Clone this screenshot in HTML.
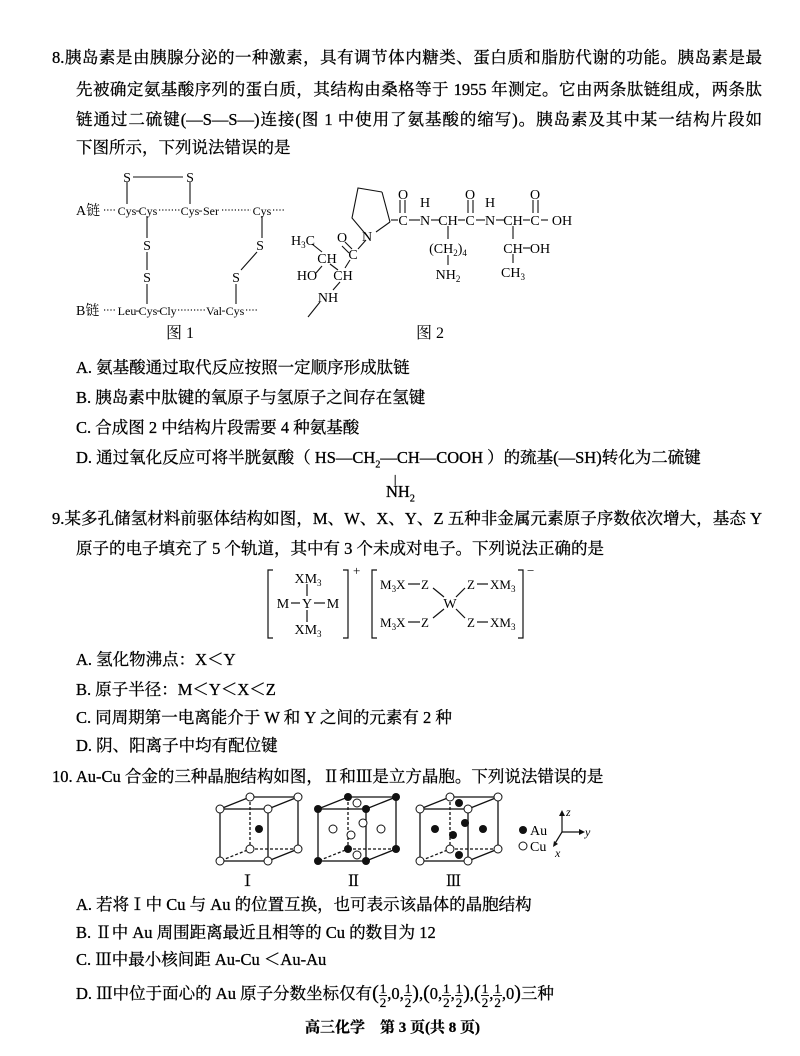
<!DOCTYPE html>
<html><head><meta charset="utf-8"><style>
body{margin:0;background:#fff;}
#p{position:relative;width:800px;height:1056px;overflow:hidden;font-family:"Liberation Serif","Noto Serif CJK SC","Noto Sans CJK SC",serif;color:#000;}
.l{position:absolute;white-space:nowrap;font-size:16.5px;line-height:20px;-webkit-text-stroke:0.3px #000;}
.j{text-align:justify;text-align-last:justify;}
svg text{font-family:"Liberation Serif","Noto Serif CJK SC",serif;fill:#000;}
.fr{display:inline-block;vertical-align:middle;text-align:center;font-size:13px;line-height:13px;}
.fr span{display:block;}
.fr .t{border-bottom:1px solid #111;padding:0 1px;}
</style></head><body><div id="p">
<div class="l j" style="left:52px;top:48px;width:710px">8.胰岛素是由胰腺分泌的一种激素，具有调节体内糖类、蛋白质和脂肪代谢的功能。胰岛素是最</div>
<div class="l j" style="left:76px;top:80px;width:686px">先被确定氨基酸序列的蛋白质，其结构由桑格等于 1955 年测定。它由两条肽链组成，两条肽</div>
<div class="l j" style="left:76px;top:110px;width:686px">链通过二硫键(—S—S—)连接(图 1 中使用了氨基酸的缩写)。胰岛素及其中某一结构片段如</div>
<div class="l" style="left:76px;top:138px">下图所示，下列说法错误的是</div>

<svg style="position:absolute;left:0;top:160px" width="800" height="190" viewBox="0 160 800 190" font-size="14">
<g stroke="#111" stroke-width="1.1" fill="none">
<line x1="133" y1="177" x2="183" y2="177"/><line x1="127" y1="182" x2="127" y2="204"/><line x1="190" y1="182" x2="190" y2="204"/>
<line x1="147" y1="216" x2="147" y2="238"/><line x1="147" y1="252" x2="147" y2="270"/><line x1="147" y1="284" x2="147" y2="304"/>
<line x1="262" y1="216" x2="262" y2="238"/><line x1="257" y1="252" x2="241" y2="270"/><line x1="236" y1="284" x2="236" y2="304"/>
<g stroke-dasharray="1.2,2" stroke-width="1.3">
<line x1="104" y1="210" x2="116" y2="210"/><line x1="159" y1="210" x2="180" y2="210"/><line x1="222" y1="210" x2="251" y2="210"/><line x1="273" y1="210" x2="284" y2="210"/>
<line x1="104" y1="310" x2="116" y2="310"/><line x1="178" y1="310" x2="205" y2="310"/><line x1="246" y1="310" x2="258" y2="310"/>
</g>
<path d="M382 192 L390 222 M368 237 L352 218 L358 188 L382 192"/>
<line x1="376" y1="232" x2="390" y2="222"/>
<line x1="391" y1="220" x2="398" y2="220"/><line x1="400" y1="200" x2="400" y2="213"/><line x1="405" y1="200" x2="405" y2="213"/>
<line x1="409" y1="220" x2="420" y2="220"/><line x1="431" y1="220" x2="439" y2="220"/><line x1="458" y1="220" x2="465" y2="220"/>
<line x1="468" y1="200" x2="468" y2="213"/><line x1="473" y1="200" x2="473" y2="213"/><line x1="476" y1="220" x2="485" y2="220"/>
<line x1="496" y1="220" x2="504" y2="220"/><line x1="523" y1="220" x2="530" y2="220"/><line x1="533" y1="200" x2="533" y2="213"/><line x1="538" y1="200" x2="538" y2="213"/><line x1="541" y1="220" x2="548" y2="220"/>
<line x1="448" y1="226" x2="448" y2="239"/><line x1="448" y1="255" x2="448" y2="265"/>
<line x1="513" y1="226" x2="513" y2="239"/><line x1="523" y1="248" x2="530" y2="248"/><line x1="513" y1="254" x2="513" y2="263"/>
<line x1="358" y1="249" x2="366" y2="240"/><line x1="345" y1="242" x2="352" y2="249"/><line x1="342" y1="246" x2="349" y2="253"/>
<line x1="350" y1="260" x2="345" y2="268"/><line x1="312" y1="244" x2="322" y2="252"/><line x1="330" y1="264" x2="338" y2="270"/>
<line x1="316" y1="273" x2="322" y2="266"/><line x1="340" y1="282" x2="333" y2="290"/><line x1="320" y1="302" x2="308" y2="317"/>
</g>
<text x="127" y="182" text-anchor="middle">S</text><text x="190" y="182" text-anchor="middle">S</text>
<text x="76" y="215" font-size="14">A链</text>
<g font-size="12" text-anchor="middle">
<text x="127" y="215">Cys</text><text x="137.5" y="214">-</text><text x="148" y="215">Cys</text>
<text x="190" y="215">Cys</text><text x="200.5" y="214">-</text><text x="211" y="215">Ser</text><text x="262" y="215">Cys</text>
<text x="127" y="315">Leu</text><text x="137.5" y="314">-</text><text x="148" y="315">Cys</text><text x="158.5" y="314">-</text><text x="168" y="315">Cly</text>
<text x="214" y="315">Val</text><text x="223.5" y="314">-</text><text x="235" y="315">Cys</text>
</g>
<text x="147" y="250" text-anchor="middle">S</text><text x="147" y="282" text-anchor="middle">S</text>
<text x="260" y="250" text-anchor="middle">S</text><text x="236" y="282" text-anchor="middle">S</text>
<text x="76" y="315" font-size="14">B链</text>
<text x="180" y="338" text-anchor="middle" font-size="16">图 1</text>
<text x="430" y="338" text-anchor="middle" font-size="16">图 2</text>
<text x="367" y="241" text-anchor="middle">N</text>
<text x="403" y="225" text-anchor="middle">C</text><text x="403" y="199" text-anchor="middle">O</text>
<text x="425" y="225" text-anchor="middle">N</text><text x="425" y="207" text-anchor="middle">H</text>
<text x="448" y="225" text-anchor="middle">CH</text>
<text x="470" y="225" text-anchor="middle">C</text><text x="470" y="199" text-anchor="middle">O</text>
<text x="490" y="225" text-anchor="middle">N</text><text x="490" y="207" text-anchor="middle">H</text>
<text x="513" y="225" text-anchor="middle">CH</text>
<text x="535" y="225" text-anchor="middle">C</text><text x="535" y="199" text-anchor="middle">O</text>
<text x="562" y="225" text-anchor="middle">OH</text>
<text x="448" y="253" text-anchor="middle">(CH<tspan font-size="9" dy="3">2</tspan><tspan dy="-3">)</tspan><tspan font-size="9" dy="3">4</tspan></text>
<text x="448" y="279" text-anchor="middle">NH<tspan font-size="9" dy="3">2</tspan></text>
<text x="513" y="253" text-anchor="middle">CH</text><text x="540" y="253" text-anchor="middle">OH</text>
<text x="513" y="277" text-anchor="middle">CH<tspan font-size="9" dy="3">3</tspan></text>
<text x="353" y="259" text-anchor="middle">C</text><text x="342" y="242" text-anchor="middle">O</text>
<text x="303" y="245" text-anchor="middle">H<tspan font-size="9" dy="3">3</tspan><tspan dy="-3">C</tspan></text>
<text x="327" y="263" text-anchor="middle">CH</text>
<text x="307" y="280" text-anchor="middle">HO</text><text x="343" y="280" text-anchor="middle">CH</text>
<text x="328" y="302" text-anchor="middle">NH</text>
</svg>

<div class="l" style="left:76px;top:358px">A. 氨基酸通过取代反应按照一定顺序形成肽链</div>
<div class="l" style="left:76px;top:388px">B. 胰岛素中肽键的氧原子与氢原子之间存在氢键</div>
<div class="l" style="left:76px;top:418px">C. 合成图 2 中结构片段需要 4 种氨基酸</div>
<div class="l" style="left:76px;top:448px">D. 通过氧化反应可将半胱氨酸（ HS—CH<sub style="font-size:10px">2</sub>—CH—COOH ）的巯基(—SH)转化为二硫键</div>
<div class="l" style="left:394px;top:469px;font-size:12px">|</div>
<div class="l" style="left:386px;top:482px">NH<sub style="font-size:10px">2</sub></div>

<div class="l j" style="left:52px;top:509px;width:710px">9.某多孔储氢材料前驱体结构如图，M、W、X、Y、Z 五种非金属元素原子序数依次增大，基态 Y</div>
<div class="l" style="left:76px;top:539px">原子的电子填充了 5 个轨道，其中有 3 个未成对电子。下列说法正确的是</div>

<svg style="position:absolute;left:260px;top:560px" width="290" height="90" viewBox="260 560 290 90" font-size="14">
<g stroke="#111" stroke-width="1.2" fill="none">
<path d="M273 570 H268 V638 H273"/><path d="M343 570 H348 V638 H343"/>
<path d="M377 570 H372 V638 H377"/><path d="M518 570 H523 V638 H518"/>
<line x1="307" y1="584" x2="307" y2="596"/><line x1="307" y1="610" x2="307" y2="622"/>
<line x1="291" y1="603" x2="300" y2="603"/><line x1="314" y1="603" x2="325" y2="603"/>
<line x1="433" y1="588" x2="444" y2="597"/><line x1="433" y1="618" x2="444" y2="609"/>
<line x1="456" y1="597" x2="465" y2="588"/><line x1="456" y1="609" x2="465" y2="618"/>
<line x1="408" y1="584" x2="420" y2="584"/><line x1="477" y1="584" x2="488" y2="584"/>
<line x1="408" y1="622" x2="420" y2="622"/><line x1="477" y1="622" x2="488" y2="622"/>
</g>
<text x="308" y="583" text-anchor="middle">XM<tspan font-size="9" dy="3">3</tspan></text>
<text x="283" y="608" text-anchor="middle">M</text><text x="307" y="608" text-anchor="middle">Y</text><text x="333" y="608" text-anchor="middle">M</text>
<text x="308" y="634" text-anchor="middle">XM<tspan font-size="9" dy="3">3</tspan></text>
<text x="353" y="575" font-size="13">+</text><text x="527" y="575" font-size="13">−</text>
<text x="380" y="589" font-size="13">M<tspan font-size="9" dy="3">3</tspan><tspan dy="-3">X</tspan></text><text x="421" y="589" font-size="13">Z</text>
<text x="467" y="589" font-size="13">Z</text><text x="490" y="589" font-size="13">XM<tspan font-size="9" dy="3">3</tspan></text>
<text x="450" y="608" text-anchor="middle">W</text>
<text x="380" y="627" font-size="13">M<tspan font-size="9" dy="3">3</tspan><tspan dy="-3">X</tspan></text><text x="421" y="627" font-size="13">Z</text>
<text x="467" y="627" font-size="13">Z</text><text x="490" y="627" font-size="13">XM<tspan font-size="9" dy="3">3</tspan></text>
</svg>

<div class="l" style="left:76px;top:650px">A. 氢化物沸点：X＜Y</div>
<div class="l" style="left:76px;top:680px">B. 原子半径：M＜Y＜X＜Z</div>
<div class="l" style="left:76px;top:708px">C. 同周期第一电离能介于 W 和 Y 之间的元素有 2 种</div>
<div class="l" style="left:76px;top:736px">D. 阴、阳离子中均有配位键</div>
<div class="l" style="left:52px;top:767px">10. Au-Cu 合金的三种晶胞结构如图，Ⅱ和Ⅲ是立方晶胞。下列说法错误的是</div>

<svg style="position:absolute;left:200px;top:790px" width="420" height="100" viewBox="200 790 420 100" font-size="14">
<defs>
<g id="box" stroke="#111" fill="none" stroke-width="1.3">
<rect x="0" y="12" width="48" height="52"/>
<path d="M0 12 L30 0 L78 0 L48 12 M78 0 L78 52 L48 64" />
<path d="M30 0 V52 L0 64 M30 52 H78" stroke-dasharray="3,2"/>
</g>
</defs>
<g transform="translate(220,797)"><use href="#box"/>
<g stroke="#111" stroke-width="1" fill="#fff"><circle cx="0" cy="12" r="4"/><circle cx="48" cy="12" r="4"/><circle cx="30" cy="0" r="4"/><circle cx="78" cy="0" r="4"/><circle cx="0" cy="64" r="4"/><circle cx="48" cy="64" r="4"/><circle cx="30" cy="52" r="4"/><circle cx="78" cy="52" r="4"/></g>
<circle cx="39" cy="32" r="4" fill="#111"/></g>
<g transform="translate(318,797)"><use href="#box"/>
<g fill="#111"><circle cx="0" cy="12" r="4"/><circle cx="48" cy="12" r="4"/><circle cx="30" cy="0" r="4"/><circle cx="78" cy="0" r="4"/><circle cx="0" cy="64" r="4"/><circle cx="48" cy="64" r="4"/><circle cx="30" cy="52" r="4"/><circle cx="78" cy="52" r="4"/></g>
<g stroke="#111" fill="#fff"><circle cx="39" cy="6" r="4"/><circle cx="39" cy="58" r="4"/><circle cx="15" cy="32" r="4"/><circle cx="63" cy="32" r="4"/><circle cx="45" cy="26" r="4"/><circle cx="33" cy="38" r="4"/></g></g>
<g transform="translate(420,797)"><use href="#box"/>
<g stroke="#111" fill="#fff"><circle cx="0" cy="12" r="4"/><circle cx="48" cy="12" r="4"/><circle cx="30" cy="0" r="4"/><circle cx="78" cy="0" r="4"/><circle cx="0" cy="64" r="4"/><circle cx="48" cy="64" r="4"/><circle cx="30" cy="52" r="4"/><circle cx="78" cy="52" r="4"/></g>
<g fill="#111"><circle cx="39" cy="6" r="4"/><circle cx="39" cy="58" r="4"/><circle cx="15" cy="32" r="4"/><circle cx="63" cy="32" r="4"/><circle cx="45" cy="26" r="4"/><circle cx="33" cy="38" r="4"/></g></g>
<circle cx="523" cy="830" r="4" fill="#111"/><text x="530" y="835">Au</text>
<circle cx="523" cy="846" r="4" fill="none" stroke="#111"/><text x="530" y="851">Cu</text>
<g stroke="#111" stroke-width="1.2"><line x1="562" y1="832" x2="562" y2="813"/><line x1="562" y1="832" x2="582" y2="832"/><line x1="562" y1="832" x2="554" y2="845"/></g>
<path d="M562 810 l-3 6 h6z M585 832 l-6 -3 v6z M553 847 l1 -6 l4 3z" fill="#111"/>
<text x="566" y="816" font-style="italic" font-size="12">z</text><text x="585" y="836" font-style="italic" font-size="12">y</text><text x="555" y="857" font-style="italic" font-size="12">x</text>
</svg>
<div class="l" style="left:240px;top:872px;font-size:15px">Ⅰ</div>
<div class="l" style="left:346px;top:872px;font-size:15px">Ⅱ</div>
<div class="l" style="left:446px;top:872px;font-size:15px">Ⅲ</div>

<div class="l" style="left:76px;top:895px">A. 若将Ⅰ中 Cu 与 Au 的位置互换，也可表示该晶体的晶胞结构</div>
<div class="l" style="left:76px;top:923px">B. Ⅱ中 Au 周围距离最近且相等的 Cu 的数目为 12</div>
<div class="l" style="left:76px;top:950px">C. Ⅲ中最小核间距 Au-Cu ＜Au-Au</div>
<div class="l" style="left:76px;line-height:30px;top:978px">D. Ⅲ中位于面心的 Au 原子分数坐标仅有<span style="font-size:20px">(</span><span class="fr"><span class="t">1</span><span>2</span></span>,0,<span class="fr"><span class="t">1</span><span>2</span></span><span style="font-size:20px">)</span>,<span style="font-size:20px">(</span>0,<span class="fr"><span class="t">1</span><span>2</span></span>,<span class="fr"><span class="t">1</span><span>2</span></span><span style="font-size:20px">)</span>,<span style="font-size:20px">(</span><span class="fr"><span class="t">1</span><span>2</span></span>,<span class="fr"><span class="t">1</span><span>2</span></span>,0<span style="font-size:20px">)</span>三种</div>
<div class="l" style="left:305px;top:1018px;font-size:15px;font-weight:bold">高三化学　第 3 页(共 8 页)</div>
</div></body></html>
